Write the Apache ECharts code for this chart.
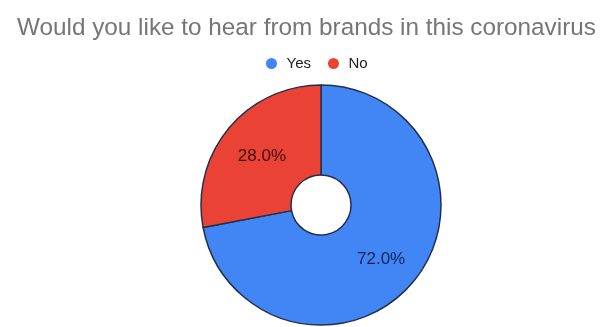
<!DOCTYPE html>
<html>
<head>
<meta charset="utf-8">
<script src="https://cdn.jsdelivr.net/npm/echarts@6/dist/echarts.min.js"></script>
<style>
  html, body { margin: 0; padding: 0; background: #ffffff; }
  #chart { width: 601px; height: 327px; }
</style>
</head>
<body>
<div id="chart"></div>
<script>
// Survey answers and their shares (percent)
const categories = ['Yes', 'No'];
const shares = [72.0, 28.0];
const sliceColors = ['#4285f4', '#ea4335'];
const labelColors = ['#0d2456', '#3d0d08'];
const labelOffsets = [[0, 5], [1, 1]];

const chart = echarts.init(document.getElementById('chart'), null, { renderer: 'canvas' });

const pieData = categories.map((name, i) => ({
  name: name,
  value: shares[i],
  itemStyle: { color: sliceColors[i] },
  label: { color: labelColors[i], offset: labelOffsets[i] }
}));

chart.setOption({
  backgroundColor: '#ffffff',
  animation: false,
  title: {
    text: 'Would you like to hear from brands in this coronavirus',
    left: 12,
    top: 11,
    textStyle: {
      fontFamily: 'Liberation Sans, Arial, sans-serif',
      fontSize: 24.3,
      fontWeight: 'normal',
      color: '#767676'
    }
  },
  legend: {
    data: categories,
    left: 261,
    top: 51,
    icon: 'circle',
    itemWidth: 20,
    itemHeight: 11,
    itemGap: 17,
    itemStyle: { borderWidth: 0 },
    textStyle: {
      fontFamily: 'Liberation Sans, Arial, sans-serif',
      fontSize: 15,
      color: '#222222'
    }
  },
  series: [{
    type: 'pie',
    center: [321, 205],
    radius: [30, 120],
    startAngle: 90,
    clockwise: true,
    avoidLabelOverlap: false,
    itemStyle: {
      borderColor: '#24304a',
      borderWidth: 1.5
    },
    label: {
      show: true,
      position: 'inside',
      fontFamily: 'Liberation Sans, Arial, sans-serif',
      fontSize: 17,
      formatter: p => p.value.toFixed(1) + '%'
    },
    labelLine: { show: false },
    emphasis: { disabled: true },
    data: pieData
  }]
});
</script>
</body>
</html>
